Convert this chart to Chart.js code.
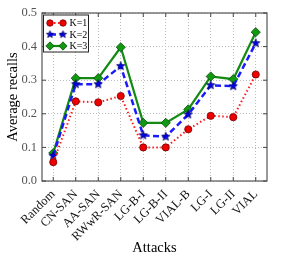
<!DOCTYPE html>
<html><head><meta charset="utf-8">
<script src="https://cdn.jsdelivr.net/npm/chart.js@4/dist/chart.umd.min.js"></script>
<style>html,body{margin:0;padding:0;background:#fff;}#wrap{width:297px;height:255px;}</style>
</head><body><div id="wrap"><canvas id="c" width="297" height="255"></canvas></div>
<script>
const categories = ["Random","CN-SAN","AA-SAN","RWwR-SAN","LG-B-I","LG-B-II","VIAL-B","LG-I","LG-II","VIAL"];
const k1 = [0.056,0.237,0.234,0.253,0.100,0.100,0.154,0.194,0.190,0.317];
const k2 = [0.075,0.288,0.288,0.342,0.136,0.132,0.198,0.285,0.282,0.410];
const k3 = [0.083,0.306,0.306,0.398,0.173,0.173,0.213,0.311,0.303,0.443];
const seriesNames = ["K=1","K=2","K=3"];
const yTicks = [0.0,0.1,0.2,0.3,0.4,0.5];

const SERIF = "'Liberation Serif', 'Times New Roman', serif";

function starImg(r, fill, stroke){
  const s = Math.ceil(r*2+3);
  const cv = document.createElement('canvas'); cv.width=s; cv.height=s;
  const g = cv.getContext('2d');
  const cx=s/2, cy=s/2;
  g.beginPath();
  for(let i=0;i<10;i++){
    const rr = i%2===0 ? r : r*0.42;
    const a = -Math.PI/2 + i*Math.PI/5;
    const x = cx + rr*Math.cos(a), y = cy + rr*Math.sin(a);
    if(i===0) g.moveTo(x,y); else g.lineTo(x,y);
  }
  g.closePath(); g.fillStyle=fill; g.fill(); g.lineWidth=0.8; g.strokeStyle=stroke; g.stroke();
  return cv;
}
const star = starImg(4.4,'#0000ee','#000066');
const starSmall = starImg(3.8,'#0000ee','#000066');

const framePlugin = {
  id:'frame',
  afterDatasetsDraw(chart){
    const {ctx, chartArea:a} = chart;
    ctx.save();
    ctx.strokeStyle='#555'; ctx.lineWidth=1.2; ctx.setLineDash([]);
    ctx.strokeRect(a.left, a.top, a.right-a.left, a.bottom-a.top);
    ctx.lineWidth=1; ctx.strokeStyle='#444';
    const ys = chart.scales.y, xs = chart.scales.x;
    yTicks.forEach(v=>{ const p=ys.getPixelForValue(v);
      ctx.beginPath(); ctx.moveTo(a.left,p); ctx.lineTo(a.left+4,p); ctx.moveTo(a.right,p); ctx.lineTo(a.right-4,p); ctx.stroke(); });
    categories.forEach((c,i)=>{ const p=xs.getPixelForTick(i);
      ctx.beginPath(); ctx.moveTo(p,a.bottom); ctx.lineTo(p,a.bottom-4); ctx.moveTo(p,a.top); ctx.lineTo(p,a.top+4); ctx.stroke(); });
    // legend
    const lx=a.left+1.5, ly=a.top+2, lw=45, lh=37;
    ctx.fillStyle='rgba(255,255,255,0.9)'; ctx.fillRect(lx,ly,lw,lh);
    ctx.strokeStyle='#222'; ctx.lineWidth=1; ctx.strokeRect(lx,ly,lw,lh);
    chart.data.datasets.forEach((ds,i)=>{
      const y = ly+8+i*11.5;
      const x0=lx+6.5, x1=lx+19.5;
      ctx.save();
      ctx.strokeStyle=ds.borderColor; ctx.lineWidth=ds.borderWidth; ctx.setLineDash(ds.borderDash||[]);
      ctx.beginPath(); ctx.moveTo(x0,y); ctx.lineTo(x1,y); ctx.stroke();
      ctx.restore();
      [x0,x1].forEach(x=>{
        ctx.save();
        ctx.fillStyle=ds.pointBackgroundColor; ctx.strokeStyle=ds.pointBorderColor; ctx.lineWidth=ds.pointBorderWidth; ctx.setLineDash([]);
        const ps = (ds.pointStyle===star) ? starSmall : ds.pointStyle;
        Chart.helpers.drawPoint(ctx,{pointStyle:ps, radius:ds.pointRadius*0.9, borderWidth:ds.pointBorderWidth, rotation:0}, x, y);
        ctx.restore();
      });
      ctx.save();
      ctx.fillStyle='#000'; ctx.font="10px "+SERIF; ctx.textBaseline='middle'; ctx.textAlign='left';
      ctx.fillText(ds.label, lx+26, y+0.5);
      ctx.restore();
    });
    ctx.restore();
  }
};

const ds = [
  {label:seriesNames[0], data:k1, borderColor:'#ff1a1a', borderWidth:2, borderDash:[1.5,2.5],
   pointStyle:'circle', pointRadius:3.6, pointBackgroundColor:'#ee0000', pointBorderColor:'#7a0000', pointBorderWidth:0.8},
  {label:seriesNames[1], data:k2, borderColor:'#1a1aff', borderWidth:2.5, borderDash:[6,3.5],
   pointStyle:star, pointRadius:4, pointBackgroundColor:'#0000ee', pointBorderColor:'#000066', pointBorderWidth:0.8},
  {label:seriesNames[2], data:k3, borderColor:'#138a13', borderWidth:2.2, borderDash:[],
   pointStyle:'rectRot', pointRadius:4.6, pointBackgroundColor:'#119911', pointBorderColor:'#0a4a0a', pointBorderWidth:0.8}
];

new Chart(document.getElementById('c'), {
  type:'line',
  data:{labels:categories, datasets:ds.map(d=>Object.assign({fill:false, tension:0, pointHoverRadius:d.pointRadius}, d))},
  plugins:[framePlugin],
  options:{
    responsive:false, animation:false, devicePixelRatio:1,
    layout:{padding:{left:0,right:30,top:13,bottom:0}},
    plugins:{legend:{display:false}, tooltip:{enabled:false}},
    scales:{
      x:{
        type:'category', offset:true,
        grid:{color:'#bdbdbd', lineWidth:1, drawTicks:false, borderDash:[1,2]},
        border:{display:false, dash:[1,2]},
        ticks:{color:'#111', font:{family:SERIF, size:12.5}, minRotation:45, maxRotation:45, padding:6, autoSkip:false},
        title:{display:true, text:'Attacks', color:'#000', font:{family:SERIF, size:14.5}, padding:{top:0,bottom:-2}},
        afterFit(s){ s.height=74; }
      },
      y:{
        min:0, max:0.5,
        grid:{color:'#bdbdbd', lineWidth:1, drawTicks:false, borderDash:[1,2]},
        border:{display:false, dash:[1,2]},
        afterBuildTicks(s){ s.ticks = yTicks.map(v=>({value:v})); },
        ticks:{color:'#555', font:{family:SERIF, size:12.5}, padding:5, callback:(v)=>Number(v).toFixed(1)},
        title:{display:true, text:'Average recalls', color:'#000', font:{family:SERIF, size:14.5}, padding:{top:4,bottom:2}},
        afterFit(s){ s.width=42; }
      }
    }
  }
});
</script></body></html>
